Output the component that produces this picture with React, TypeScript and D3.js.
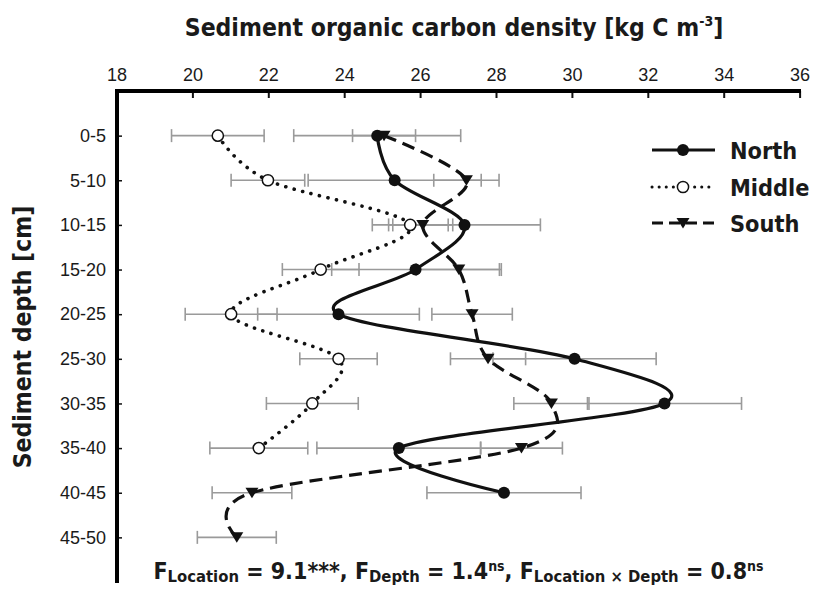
import React, { useEffect, useRef } from 'react';
import * as d3 from 'd3';

// depth classes (cm) and carbon density means / standard errors per site
const depths = ['0-5', '5-10', '10-15', '15-20', '20-25', '25-30', '30-35', '35-40', '40-45', '45-50'];
const xTicks = [18, 20, 22, 24, 26, 28, 30, 32, 34, 36];

const north = [24.87, 25.33, 27.17, 25.88, 23.85, 30.07, 32.44, 25.44, 28.21];
const northSE = [2.2, 2.28, 2.0, 2.21, 2.13, 2.15, 2.03, 2.16, 2.03];

const middle = [20.67, 21.99, 25.74, 23.38, 21.02, 23.85, 23.16, 21.75];
const middleSE = [1.22, 0.97, 1.0, 1.01, 1.21, 1.02, 1.21, 1.29];

const south = [25.05, 27.22, 26.07, 27.02, 27.37, 27.79, 29.46, 28.67, 21.57, 21.17];
const southSE = [0.83, 0.86, 0.79, 1.12, 1.06, 0.99, 0.99, 1.08, 1.05, 1.04];

const seriesNames = ['North', 'Middle', 'South'];

const W = 813;
const H = 591;
const LABEL_FONT = '"DejaVu Sans Condensed", "DejaVu Sans", Verdana, sans-serif';
const TICK_FONT = '"Liberation Sans", Arial, sans-serif';

const App: React.FC = () => {
  const svgRef = useRef<SVGSVGElement>(null);

  useEffect(() => {
    if (!svgRef.current) return;
    const svg = d3.select(svgRef.current);
    svg.selectAll('*').remove();

    const x = d3.scaleLinear().domain([18, 36]).range([116.5, 799.6]);
    const y = d3.scalePoint<string>().domain(depths).range([91, 582]).padding(1);

    const series = [
      { name: seriesNames[0], values: north, se: northSE, dash: null as string | null, marker: 'dot' },
      { name: seriesNames[1], values: middle, se: middleSE, dash: '0.1 8.6', marker: 'ring' },
      { name: seriesNames[2], values: south, se: southSE, dash: '13 7', marker: 'tri' },
    ];

    // error bars first so lines sit on top
    const errG = svg.append('g')
      .attr('stroke', '#9a9a9a')
      .attr('stroke-width', 1.6)
      .attr('fill', 'none');

    series.forEach(s => {
      s.values.forEach((v, i) => {
        const yy = y(depths[i])!;
        const x0 = x(v - s.se[i]);
        const x1 = x(v + s.se[i]);
        errG.append('line').attr('x1', x0).attr('x2', x1).attr('y1', yy).attr('y2', yy);
        errG.append('line').attr('x1', x0).attr('x2', x0).attr('y1', yy - 6.5).attr('y2', yy + 6.5);
        errG.append('line').attr('x1', x1).attr('x2', x1).attr('y1', yy - 6.5).attr('y2', yy + 6.5);
      });
    });

    const line = d3.line<number>()
      .x(d => x(d))
      .y((_, i) => y(depths[i])!)
      .curve(d3.curveCardinal.tension(0));

    const drawMarker = (g: d3.Selection<SVGGElement, unknown, null, undefined>, kind: string, cx: number, cy: number) => {
      if (kind === 'dot') {
        g.append('circle').attr('cx', cx).attr('cy', cy).attr('r', 6).attr('fill', '#111');
      } else if (kind === 'ring') {
        g.append('circle').attr('cx', cx).attr('cy', cy).attr('r', 5.6)
          .attr('fill', '#fff').attr('stroke', '#111').attr('stroke-width', 1.5);
      } else {
        g.append('path')
          .attr('d', `M${cx - 6.5},${cy - 5} L${cx + 6.5},${cy - 5} L${cx},${cy + 5.5} Z`)
          .attr('fill', '#111');
      }
    };

    series.forEach(s => {
      const p = svg.append('path')
        .attr('d', line(s.values))
        .attr('fill', 'none')
        .attr('stroke', '#111')
        .attr('stroke-width', 3.2);
      if (s.dash) p.attr('stroke-dasharray', s.dash);
      if (s.marker === 'ring') p.attr('stroke-linecap', 'round').attr('stroke-width', 3.6);

      const mg = svg.append('g');
      s.values.forEach((v, i) => drawMarker(mg, s.marker, x(v), y(depths[i])!));
    });

    // top axis
    const top = svg.append('g').attr('transform', 'translate(0,91)')
      .call(d3.axisTop(x).tickValues(xTicks).tickSizeInner(-7).tickSizeOuter(0).tickPadding(10).tickFormat(d3.format('d')));
    top.select('.domain').remove();
    top.selectAll('.tick line').attr('stroke', '#111').attr('stroke-width', 2);
    top.selectAll('text')
      .style('font-family', TICK_FONT)
      .style('font-size', '18px')
      .attr('fill', '#1a1a1a');

    // left axis
    const left = svg.append('g').attr('transform', 'translate(117,0)')
      .call(d3.axisLeft(y).tickSizeInner(-5).tickSizeOuter(0).tickPadding(11));
    left.select('.domain').remove();
    left.selectAll('.tick line').attr('stroke', '#111').attr('stroke-width', 1.5);
    left.selectAll('text')
      .style('font-family', TICK_FONT)
      .style('font-size', '18px')
      .attr('fill', '#1a1a1a');

    // heavy axis lines
    svg.append('line').attr('x1', 115).attr('x2', 801).attr('y1', 91).attr('y2', 91)
      .attr('stroke', '#000').attr('stroke-width', 4);
    svg.append('line').attr('x1', 117).attr('x2', 117).attr('y1', 89).attr('y2', 583)
      .attr('stroke', '#000').attr('stroke-width', 4);

    // title
    const title = svg.append('text')
      .attr('x', 454)
      .attr('y', 36)
      .attr('text-anchor', 'middle')
      .style('font-family', LABEL_FONT)
      .style('font-weight', 'bold')
      .style('font-size', '24.5px')
      .attr('fill', '#1a1a1a');
    title.append('tspan').text('Sediment organic carbon density [kg C m');
    title.append('tspan').attr('dy', -10).style('font-size', '14px').text('-3');
    title.append('tspan').attr('dy', 10).text(']');

    // y title
    svg.append('text')
      .attr('transform', 'translate(31,337) rotate(-90)')
      .attr('text-anchor', 'middle')
      .style('font-family', LABEL_FONT)
      .style('font-weight', 'bold')
      .style('font-size', '24.5px')
      .attr('fill', '#1a1a1a')
      .text('Sediment depth [cm]');

    // legend
    const legendY = [150, 187, 223];
    series.forEach((s, i) => {
      const lg = svg.append('g');
      const ly = legendY[i];
      const l = lg.append('line')
        .attr('x1', 652).attr('x2', 715).attr('y1', ly).attr('y2', ly)
        .attr('stroke', '#111').attr('stroke-width', 3.2);
      if (s.dash) l.attr('stroke-dasharray', s.marker === 'ring' ? '0.1 7' : '11 6');
      if (s.marker === 'ring') l.attr('stroke-linecap', 'round').attr('stroke-width', 3);
      drawMarker(lg, s.marker, 683, ly);
      lg.append('text')
        .attr('x', 730)
        .attr('y', ly + 9)
        .style('font-family', LABEL_FONT)
        .style('font-weight', 'bold')
        .style('font-size', '23.3px')
        .attr('fill', '#1a1a1a')
        .text(s.name);
    });

    // statistics note
    const note = svg.append('text')
      .attr('x', 458.5)
      .attr('y', 579)
      .attr('text-anchor', 'middle')
      .style('font-family', LABEL_FONT)
      .style('font-weight', 'bold')
      .style('font-size', '23px')
      .style('white-space', 'pre')
      .attr('fill', '#1a1a1a');
    note.append('tspan').text('F');
    note.append('tspan').attr('dy', 3).style('font-size', '16.5px').text('Location');
    note.append('tspan').attr('dy', -3).text(' = 9.1***, F');
    note.append('tspan').attr('dy', 3).style('font-size', '16.5px').text('Depth');
    note.append('tspan').attr('dy', -3).text(' = 1.4');
    note.append('tspan').attr('dy', -8).style('font-size', '14px').text('ns');
    note.append('tspan').attr('dy', 8).text(', F');
    note.append('tspan').attr('dy', 3).style('font-size', '16.5px').text('Location × Depth');
    note.append('tspan').attr('dy', -3).text(' = 0.8');
    note.append('tspan').attr('dy', -8).style('font-size', '14px').text('ns');
  }, []);

  return (
    <svg
      ref={svgRef}
      width={W}
      height={H}
      style={{ position: 'absolute', left: 0, top: 0, background: '#fff', display: 'block' }}
    />
  );
};

export default App;
